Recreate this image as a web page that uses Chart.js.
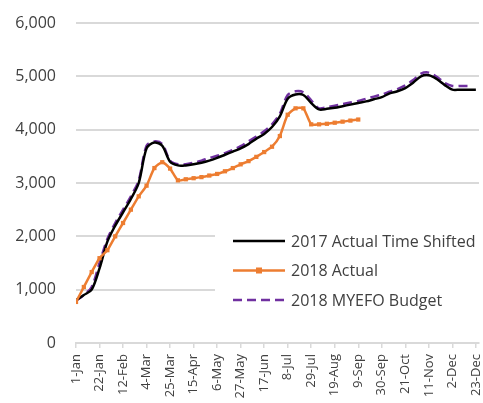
<!DOCTYPE html>
<html>
<head>
<meta charset="utf-8">
<script src="https://cdn.jsdelivr.net/npm/chart.js@4/dist/chart.umd.min.js"></script>
<style>
  html, body { margin: 0; padding: 0; background: #fff; }
  #wrap { width: 483px; height: 403px; position: relative; }
</style>
</head>
<body>
<div id="wrap"><canvas id="chart"></canvas></div>
<script>
// x axis labels, one every third week
const tickLabels = ['1-Jan', '22-Jan', '12-Feb', '4-Mar', '25-Mar', '15-Apr', '6-May', '27-May', '17-Jun',
  '8-Jul', '29-Jul', '19-Aug', '9-Sep', '30-Sep', '21-Oct', '11-Nov', '2-Dec', '23-Dec'];

// weekly values, starting at week 0 (1-Jan)
const actual2017Shifted = [800, 900, 1000, 1400, 1900, 2200, 2450, 2700, 3000, 3650,
  3760, 3700, 3400, 3330, 3330, 3350, 3380, 3420, 3470, 3530,
  3590, 3650, 3730, 3830, 3920, 4050, 4250, 4580, 4660, 4650,
  4500, 4380, 4390, 4410, 4440, 4470, 4500, 4530, 4570, 4610,
  4680, 4720, 4780, 4880, 5000, 5020, 4950, 4840, 4750, 4750,
  4750, 4750];

const actual2018 = [770, 1050, 1330, 1590, 1740, 2000, 2250, 2500, 2750, 2950,
  3280, 3390, 3270, 3050, 3070, 3090, 3110, 3140, 3170, 3220,
  3280, 3350, 3410, 3490, 3580, 3680, 3880, 4280, 4400, 4400,
  4100, 4100, 4110, 4130, 4150, 4170, 4190];

const myefoBudget2018 = [790, 900, 1050, 1500, 1950, 2250, 2500, 2750, 3050, 3700,
  3780, 3730, 3420, 3350, 3350, 3380, 3420, 3470, 3510, 3560,
  3620, 3690, 3780, 3870, 3970, 4100, 4300, 4650, 4720, 4700,
  4550, 4400, 4420, 4450, 4480, 4510, 4540, 4580, 4620, 4660,
  4710, 4760, 4830, 4930, 5050, 5070, 4990, 4880, 4820, 4820,
  4820];

const toPoints = (arr) => arr.map((v, i) => ({x: i, y: v}));

const FONT = 'Open Sans';
const TEXT = '#404040';

// legend drawn inside the plot on a white box, like the original
const insideLegend = {
  id: 'insideLegend',
  afterDatasetsDraw(chart, args, opts) {
    const ctx = chart.ctx;
    ctx.save();
    ctx.fillStyle = '#fff';
    ctx.fillRect(opts.x, opts.y, opts.w, opts.h);
    ctx.font = opts.fontSize + 'px "' + FONT + '"';
    ctx.textBaseline = 'middle';
    chart.data.datasets.forEach((ds, i) => {
      const y = opts.y + opts.firstRow + i * opts.rowGap;
      const x0 = opts.x + opts.sampleLeft;
      const x1 = x0 + opts.sampleWidth;
      ctx.strokeStyle = ds.borderColor;
      ctx.lineWidth = ds.borderWidth;
      ctx.setLineDash(ds.borderDash || []);
      ctx.beginPath();
      ctx.moveTo(x0, y);
      ctx.lineTo(x1, y);
      ctx.stroke();
      ctx.setLineDash([]);
      if (ds.pointRadius > 0) {
        const r = ds.pointRadius;
        ctx.fillStyle = ds.pointBackgroundColor;
        ctx.fillRect((x0 + x1) / 2 - r, y - r, r * 2, r * 2);
      }
      ctx.fillStyle = TEXT;
      ctx.fillText(ds.label, x1 + 6, y + 1);
    });
    ctx.restore();
  }
};

new Chart(document.getElementById('chart'), {
  type: 'line',
  data: {
    datasets: [
      {
        label: '2017 Actual Time Shifted',
        data: toPoints(actual2017Shifted),
        borderColor: '#000000',
        borderWidth: 2.5,
        pointRadius: 0,
        tension: 0.3,
        order: 2
      },
      {
        label: '2018 Actual',
        data: toPoints(actual2018),
        borderColor: '#ED7D31',
        backgroundColor: '#ED7D31',
        pointBackgroundColor: '#ED7D31',
        pointBorderWidth: 0,
        borderWidth: 2.5,
        pointStyle: 'rect',
        pointRadius: 3,
        tension: 0.2,
        order: 1
      },
      {
        label: '2018 MYEFO Budget',
        data: toPoints(myefoBudget2018),
        borderColor: '#7030A0',
        borderWidth: 2.5,
        borderDash: [9, 5],
        pointRadius: 0,
        tension: 0.3,
        order: 3
      }
    ]
  },
  options: {
    responsive: true,
    maintainAspectRatio: false,
    animation: false,
    layout: { padding: { top: 23, right: 0, bottom: 0, left: 0 } },
    plugins: {
      legend: { display: false },
      tooltip: { enabled: false },
      insideLegend: {
        x: 215, y: 225, w: 268, h: 90,
        firstRow: 16, rowGap: 29.5,
        sampleLeft: 18, sampleWidth: 52,
        fontSize: 16
      }
    },
    scales: {
      x: {
        type: 'linear',
        min: 0,
        max: 51.4,
        afterBuildTicks: (scale) => {
          scale.ticks = tickLabels.map((_, i) => ({value: i * 3}));
        },
        afterFit: (scale) => {
          scale.height = 60;
          scale.paddingLeft = 0;
          scale.paddingRight = 0;
        },
        grid: {
          drawOnChartArea: false,
          drawTicks: true,
          tickLength: 5,
          color: '#d9d9d9',
          lineWidth: 1.5
        },
        border: { color: '#d9d9d9', width: 2 },
        ticks: {
          autoSkip: false,
          minRotation: 90,
          maxRotation: 90,
          padding: 6,
          color: TEXT,
          font: { family: FONT, size: 13 },
          callback: (v) => tickLabels[v / 3]
        }
      },
      y: {
        min: 0,
        max: 6000,
        afterFit: (scale) => {
          scale.width = 76;
          scale.paddingTop = 0;
          scale.paddingBottom = 0;
        },
        grid: {
          color: '#d9d9d9',
          lineWidth: 2,
          drawTicks: false
        },
        border: { display: false },
        ticks: {
          stepSize: 1000,
          padding: 20,
          color: TEXT,
          font: { family: FONT, size: 16 },
          callback: (v) => v.toLocaleString('en-US')
        }
      }
    }
  },
  plugins: [insideLegend]
});
</script>
</body>
</html>
